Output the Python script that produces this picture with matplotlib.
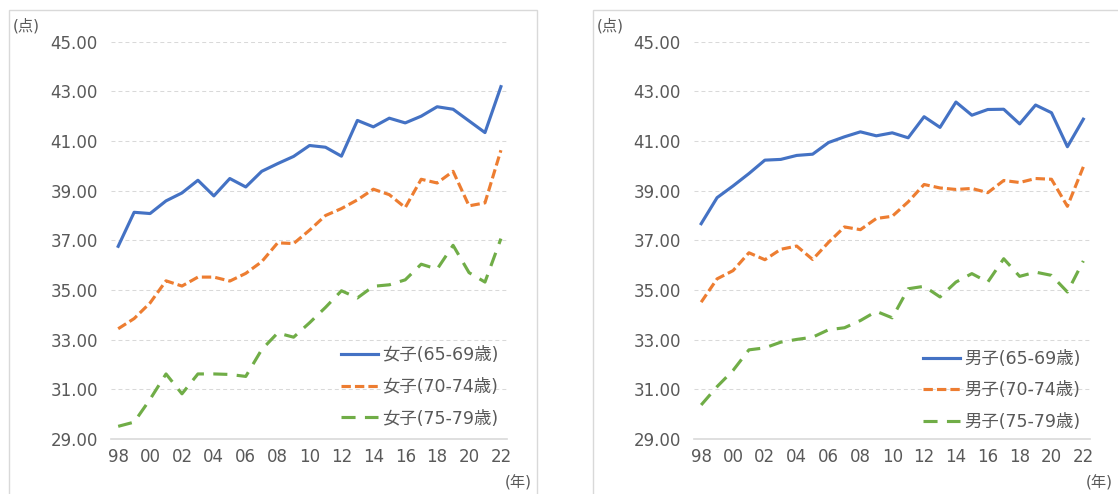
import matplotlib
matplotlib.use('Agg')
import matplotlib.pyplot as plt
from matplotlib.patches import Rectangle

plt.rcParams['font.family'] = ['DejaVu Sans', 'Noto Sans CJK JP']

years = ['98', '99', '00', '01', '02', '03', '04', '05', '06', '07', '08', '09', '10',
         '11', '12', '13', '14', '15', '16', '17', '18', '19', '20', '21', '22']

female_65 = [36.76, 38.13, 38.08, 38.59, 38.91, 39.42, 38.79, 39.49, 39.15, 39.78, 40.09, 40.38, 40.82,
             40.75, 40.39, 41.83, 41.57, 41.92, 41.73, 42.00, 42.38, 42.28, 41.81, 41.34, 43.19]
female_70 = [33.44, 33.85, 34.48, 35.37, 35.16, 35.52, 35.52, 35.36, 35.67, 36.14, 36.90, 36.87, 37.41,
             38.00, 38.28, 38.63, 39.06, 38.84, 38.32, 39.46, 39.31, 39.78, 38.39, 38.51, 40.63]
female_75 = [29.51, 29.68, 30.60, 31.62, 30.82, 31.62, 31.62, 31.60, 31.52, 32.60, 33.27, 33.10, 33.68,
             34.30, 34.97, 34.68, 35.15, 35.21, 35.41, 36.04, 35.84, 36.80, 35.70, 35.32, 37.07]

male_65 = [37.67, 38.72, 39.19, 39.69, 40.23, 40.26, 40.42, 40.47, 40.94, 41.17, 41.37, 41.21, 41.33,
           41.13, 41.98, 41.55, 42.57, 42.04, 42.27, 42.28, 41.69, 42.45, 42.14, 40.77, 41.88]
male_70 = [34.51, 35.45, 35.78, 36.50, 36.22, 36.64, 36.77, 36.23, 36.92, 37.54, 37.43, 37.88, 37.97,
           38.55, 39.25, 39.11, 39.05, 39.09, 38.92, 39.41, 39.33, 39.49, 39.46, 38.37, 39.96]
male_75 = [30.37, 31.11, 31.76, 32.59, 32.67, 32.90, 33.01, 33.10, 33.40, 33.48, 33.77, 34.14, 33.88,
           35.05, 35.15, 34.72, 35.32, 35.66, 35.32, 36.26, 35.55, 35.72, 35.59, 34.92, 36.17]

female_labels = ['女子(65-69歳)', '女子(70-74歳)', '女子(75-79歳)']
male_labels = ['男子(65-69歳)', '男子(70-74歳)', '男子(75-79歳)']

colors = ['#4472C4', '#ED7D31', '#70AD47']
styles = ['-', (0, (3, 1.3)), (0, (4.5, 3))]
text_col = '#595959'
grid_col = '#D9D9D9'

W, H = 1118, 494
fig = plt.figure(figsize=(W / 100, H / 100), dpi=100)

# panel frames (bottom edge falls outside the picture)
fig.patches.append(Rectangle((9.3 / W, -0.1), (536.7 - 9.3) / W, 1.1 - 10 / H,
                             transform=fig.transFigure, fill=False, ec=grid_col, lw=1))
fig.patches.append(Rectangle((592.7 / W, -0.1), 0.5, 1.1 - 10 / H,
                             transform=fig.transFigure, fill=False, ec=grid_col, lw=1))

bottom = 1 - 439 / H
height = (439 - 41.7) / H
ax1 = fig.add_axes([111 / W, bottom, (507.3 - 111) / W, height])
ax2 = fig.add_axes([694 / W, bottom, (1089.7 - 694) / W, height])

x = list(range(len(years)))
panels = [(ax1, [female_65, female_70, female_75], female_labels, 0.580, 0.233),
          (ax2, [male_65, male_70, male_75], male_labels, 0.579, 0.225)]

for ax, series, labels, lx, ly in panels:
    for vals, lab, c, ls in zip(series, labels, colors, styles):
        ax.plot(x, vals, color=c, lw=2.25, linestyle=ls, label=lab)
    ax.set_xlim(-0.45, 24.4)
    ax.set_ylim(29, 45)
    ax.set_yticks(range(29, 46, 2))
    ax.set_yticklabels([f'{v:.2f}' for v in range(29, 46, 2)])
    ax.set_xticks(x[::2])
    ax.set_xticklabels(years[::2])
    ax.tick_params(length=0, labelsize=12, colors=text_col)
    ax.tick_params(axis='y', pad=9.5)
    ax.tick_params(axis='x', pad=6.5)
    ax.grid(axis='y', color=grid_col, lw=0.75, linestyle=(0, (3.8, 2.9)))
    ax.set_axisbelow(True)
    for s in ['top', 'right', 'left']:
        ax.spines[s].set_visible(False)
    ax.spines['bottom'].set_color(grid_col)
    ax.spines['bottom'].set_linewidth(1.2)
    leg = ax.legend(loc='upper left', bbox_to_anchor=(lx, ly), frameon=False,
                    fontsize=12.5, handlelength=2.13, handletextpad=0.22,
                    labelspacing=0.78, borderpad=0, borderaxespad=0)
    for t in leg.get_texts():
        t.set_color(text_col)

fig.text(13 / W, 1 - 26 / H, '(点)', fontsize=11, color=text_col, va='center', ha='left')
fig.text(597 / W, 1 - 26 / H, '(点)', fontsize=11, color=text_col, va='center', ha='left')
fig.text(532 / W, 1 - 483 / H, '(年)', fontsize=11, color=text_col, va='center', ha='right')
fig.text(1113 / W, 1 - 483 / H, '(年)', fontsize=11, color=text_col, va='center', ha='right')

fig.savefig('out.png', dpi=100)
